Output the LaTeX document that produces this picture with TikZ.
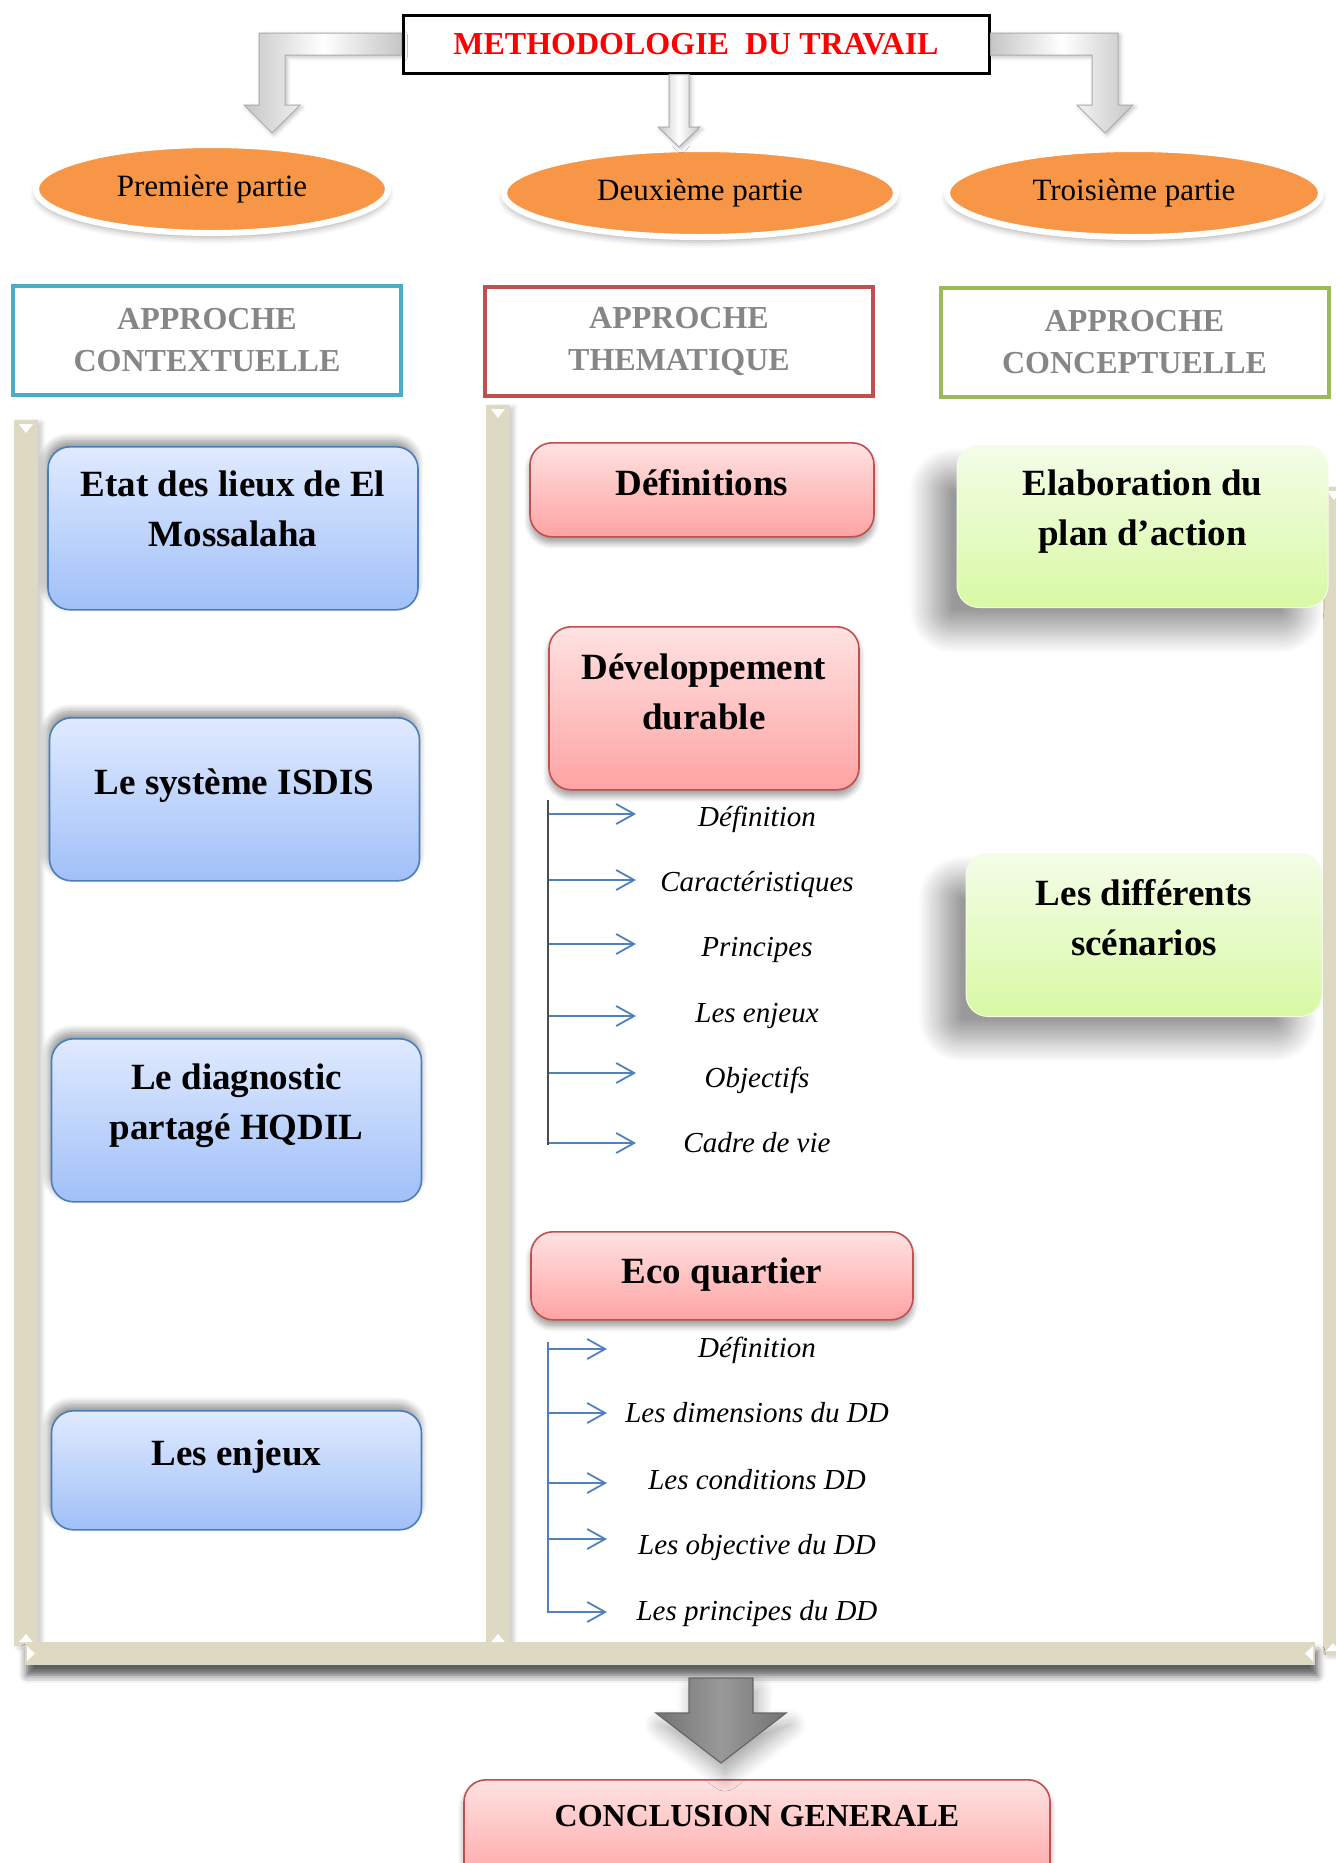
\documentclass[tikz,border=0pt]{standalone}
\usepackage{fontspec}
\setmainfont{Liberation Serif}
\usetikzlibrary{positioning,shapes.geometric,shadows.blur,calc,arrows.meta}

\definecolor{beige}{HTML}{DDD9C3}
\definecolor{bleuhaut}{HTML}{E0EAFF}
\definecolor{bleubas}{HTML}{A0C0F8}
\definecolor{bleutrait}{HTML}{4A7EBB}
\definecolor{rougehaut}{HTML}{FFE2E2}
\definecolor{rougebas}{HTML}{FFA3A3}
\definecolor{rougetrait}{HTML}{C0504D}
\definecolor{verthaut}{HTML}{F4FDE8}
\definecolor{vertbas}{HTML}{D8F9A4}
\definecolor{orangeF}{HTML}{F79646}
\definecolor{cadrebleu}{HTML}{4BACC6}
\definecolor{cadrerouge}{HTML}{C0504D}
\definecolor{cadrevert}{HTML}{9BBB59}
\definecolor{bleuliste}{HTML}{4F81BD}

\begin{document}
\begin{tikzpicture}[x=0.5pt,y=-0.5pt,
  titre/.style={draw=black,line width=1.5pt,fill=white,minimum width=293pt,minimum height=29pt,
    text=red,font=\bfseries\fontsize{16}{18}\selectfont},
  fleche3d/.style={draw=gray!65,line width=0.5pt,left color=gray!45,right color=gray!45,middle color=white,
    blur shadow={shadow xshift=1pt,shadow yshift=-1pt,shadow opacity=25,shadow blur radius=2pt}},
  grosse/.style={draw=gray!80!black,line width=0.6pt,left color=gray!90!black,right color=gray!90!black,
    middle color=gray!80!white,
    blur shadow={shadow xshift=2pt,shadow yshift=-6pt,shadow opacity=35,shadow blur radius=8pt,shadow blur steps=12}},
  partie/.style={ellipse,fill=orangeF,draw=white,line width=3pt,minimum width=#1,minimum height=44pt,
    font=\fontsize{15.5}{18}\selectfont,
    blur shadow={shadow xshift=0pt,shadow yshift=-2.5pt,shadow opacity=30,shadow blur radius=3pt}},
  approche/.style={draw=#1,line width=2pt,fill=white,minimum width=194pt,minimum height=54.5pt,
    align=center,text=gray!95,font=\bfseries\fontsize{16}{21}\selectfont},
  boite/.style={align=center,anchor=north,inner ysep=0pt,inner xsep=4pt,rounded corners=11pt,
    font=\bfseries\fontsize{18.5}{25}\selectfont},
  bluebox/.style={boite,draw=bleutrait,line width=0.8pt,top color=bleuhaut,bottom color=bleubas,
    minimum width=185pt,
    blur shadow={shadow xshift=-1pt,shadow yshift=3pt,shadow opacity=45,shadow blur radius=4pt,shadow blur steps=10}},
  redbox/.style={boite,draw=rougetrait,line width=0.8pt,top color=rougehaut,bottom color=rougebas,
    blur shadow={shadow xshift=0pt,shadow yshift=-3pt,shadow opacity=40,shadow blur radius=3pt,shadow blur steps=10}},
  greenbox/.style={boite,draw=verthaut,line width=0.5pt,top color=verthaut,bottom color=vertbas,
    blur shadow={shadow xshift=-13pt,shadow yshift=-12pt,shadow opacity=40,shadow blur radius=11pt,shadow blur steps=24}},
  barre/.style={fill=beige,blur shadow={shadow xshift=2pt,shadow yshift=-1pt,shadow opacity=20,shadow blur radius=2pt}},
  fleche/.style={draw=bleuliste,line width=0.9pt,-{Straight Barb[length=9pt,width=10pt]}},
  souspoint/.style={anchor=base,inner sep=0pt,font=\itshape\fontsize{14.5}{17}\selectfont}]

\useasboundingbox (0,0) rectangle (1336,1863);

% beige frame
\fill[barre] (14,420) rectangle (38,1646);
\fill[barre] (486,405) rectangle (510,1646);
\fill[barre] (1323,487) rectangle (1346,1655);
\fill[barre,blur shadow={shadow xshift=1pt,shadow yshift=-5pt,shadow opacity=40,shadow blur radius=4pt}]
  (25,1642) rectangle (1315,1665);
\fill[white] (19,424) -- (33,424) -- (26,433) -- cycle;
\fill[white] (491,409) -- (505,409) -- (498,418) -- cycle;
\fill[white] (1327,491) -- (1341,491) -- (1334,500) -- cycle;
\fill[white] (19,1642) -- (33,1642) -- (26,1634) -- cycle;
\fill[white] (491,1642) -- (505,1642) -- (498,1634) -- cycle;
\fill[white] (1326,1651) -- (1340,1651) -- (1333,1643) -- cycle;
\fill[white] (27,1646) -- (27,1661) -- (35,1653.5) -- cycle;
\fill[white] (1313,1646) -- (1313,1661) -- (1305,1653.5) -- cycle;

% title and the three parts
\node[titre] (titre) at (696,44) {METHODOLOGIE\ \ DU TRAVAIL};
\node[partie=176pt] (p1) at (212,189) {Première partie};
\node[partie=196pt] (p2) at (700,193) {Deuxième partie};
\node[partie=187pt] (p3) at (1134,193) {Troisième partie};

\coordinate (t1) at (272,133);
\coordinate (t2) at (679,147);
\coordinate (t3) at (1105,133);
\shade[fleche3d] let \p1=(titre.west), \p2=(t1) in
  (\x1,{\y1+5.5pt}) -- ({\x2-6.5pt},{\y1+5.5pt}) -- ({\x2-6.5pt},{\y2+14pt}) -- ({\x2-14pt},{\y2+14pt})
  -- (\p2) -- ({\x2+14pt},{\y2+14pt}) -- ({\x2+6.5pt},{\y2+14pt}) -- ({\x2+6.5pt},{\y1-5.5pt})
  -- (\x1,{\y1-5.5pt}) -- cycle;
\shade[fleche3d] let \p1=(titre.south), \p2=(t2) in
  ({\x2-5pt},\y1) -- ({\x2+5pt},\y1) -- ({\x2+5pt},{\y2+10pt}) -- ({\x2+10.5pt},{\y2+10pt})
  -- (\p2) -- ({\x2-10.5pt},{\y2+10pt}) -- ({\x2-5pt},{\y2+10pt}) -- cycle;
\shade[fleche3d] let \p1=(titre.east), \p2=(t3) in
  (\x1,{\y1+5.5pt}) -- ({\x2+6.5pt},{\y1+5.5pt}) -- ({\x2+6.5pt},{\y2+14pt}) -- ({\x2+14pt},{\y2+14pt})
  -- (\p2) -- ({\x2-14pt},{\y2+14pt}) -- ({\x2-6.5pt},{\y2+14pt}) -- ({\x2-6.5pt},{\y1-5.5pt})
  -- (\x1,{\y1-5.5pt}) -- cycle;

% approaches
\node[approche=cadrebleu] (a1) at (207,340.5) {APPROCHE\\CONTEXTUELLE};
\node[approche=cadrerouge] (a2) at (679,341.5) {APPROCHE\\THEMATIQUE};
\node[approche=cadrevert] (a3) at (1134.5,342.5) {APPROCHE\\CONCEPTUELLE};

% first column
\node[bluebox,text height=50pt,text depth=31.5pt] (etat) at (233,446) {Etat des lieux de El\\Mossalaha};
\node[bluebox,text height=38.5pt,text depth=43pt] (isdis) at (234.5,717) {Le système ISDIS};
\node[bluebox,text height=50.5pt,text depth=31pt] (hqdil) at (236.5,1038) {Le diagnostic\\partagé HQDIL};
\node[bluebox,text height=27.5pt,text depth=32pt] (enjeux) at (236.5,1410) {Les enjeux};

% second column
\node[redbox,minimum width=172pt,text height=26.5pt,text depth=20.5pt] (defs) at (702,442) {Définitions};
\node[redbox,minimum width=155pt,text height=51.5pt,text depth=30pt] (dd) at (704,626) {Développement\\durable};
\node[redbox,minimum width=191pt,text height=26pt,text depth=18pt] (eco) at (722,1231) {Eco quartier};

\coordinate (v1a) at (548,800);
\coordinate (v1b) at (548,1145);
\draw[black!70,line width=0.7pt] (v1a) -- (v1b);
\foreach \ya/\yb/\txt [count=\i] in {814/826/Définition,880/891/Caractéristiques,944/956/Principes,
    1016/1022/Les enjeux,1073/1087/Objectifs,1143/1152/Cadre de vie}{
  \coordinate (l\i) at (549,\ya);
  \coordinate (lt\i) at (636,\ya);
  \draw[fleche] (l\i) -- (lt\i);
  \node[souspoint] (s\i) at (757,\yb) {\txt};
}

\coordinate (v2a) at (548,1342);
\coordinate (v2b) at (548,1613);
\draw[bleuliste,line width=0.7pt] (v2a) -- (v2b);
\foreach \ya/\yb/\txt [count=\i] in {1349/1357/Définition,1413/1422/Les dimensions du DD,
    1483/1489/Les conditions DD,1539/1554/Les objective du DD,1612/1620/Les principes du DD}{
  \coordinate (m\i) at (549,\ya);
  \coordinate (mt\i) at (607,\ya);
  \draw[fleche] (m\i) -- (mt\i);
  \node[souspoint] (e\i) at (757,\yb) {\txt};
}

% third column
\node[greenbox,minimum width=185.5pt,text height=50pt,text depth=31pt] (plan) at (1142.5,445) {Elaboration du\\plan d’action};
\node[greenbox,minimum width=178pt,text height=51pt,text depth=30.5pt] (scen) at (1144,853) {Les différents\\scénarios};

% conclusion
\node[redbox,minimum width=293pt,text height=23.5pt,text depth=30pt,
  font=\bfseries\fontsize{16}{18}\selectfont] (concl) at (757,1779) {CONCLUSION GENERALE};
\coordinate (b0) at (721,1678);
\coordinate (t4) at (721,1763);
\shade[grosse] let \p1=(b0), \p2=(t4) in
  ({\x2-16pt},\y1) -- ({\x2+16pt},\y1) -- ({\x2+16pt},{\y2+25pt}) -- ({\x2+32.5pt},{\y2+25pt})
  -- (\p2) -- ({\x2-32.5pt},{\y2+25pt}) -- ({\x2-16pt},{\y2+25pt}) -- cycle;
\end{tikzpicture}
\end{document}
